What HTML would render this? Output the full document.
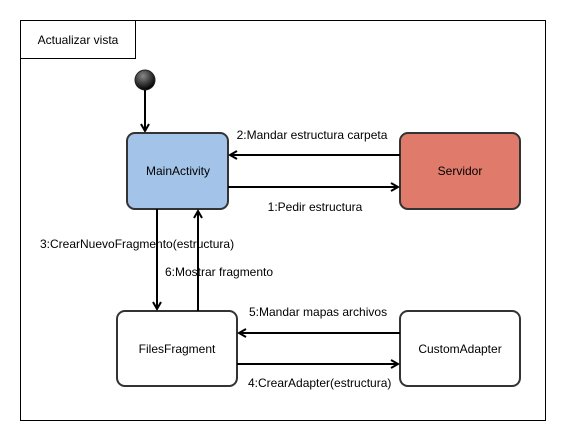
<!DOCTYPE html>
<html><head><meta charset="utf-8"><style>body{margin:0;background:#fff}svg{display:block}text{font-family:"Liberation Sans",sans-serif;font-size:12px;fill:#000}</style></head>
<body>
<svg width="566" height="441" xmlns="http://www.w3.org/2000/svg">
<defs>
<radialGradient id="g" cx="0.4" cy="0.3" r="0.7"><stop offset="0" stop-color="#888"/><stop offset="1" stop-color="#000"/></radialGradient>
<marker id="a" markerWidth="10" markerHeight="10" refX="8" refY="5" orient="auto" markerUnits="userSpaceOnUse"><path d="M1,1 L8,5 L1,9" fill="none" stroke="#000" stroke-width="2"/></marker>
</defs>
<rect x="20.5" y="20.5" width="525" height="400" fill="#fff" stroke="#000"/>
<rect x="20.5" y="20.5" width="115" height="38" fill="#fff" stroke="#000"/>
<text x="78" y="44" text-anchor="middle">Actualizar vista</text>
<circle cx="145" cy="80" r="10" fill="url(#g)" stroke="#222"/>
<line x1="145" y1="90" x2="145" y2="131" stroke="#000" stroke-width="2" marker-end="url(#a)"/>
<rect x="127" y="133" width="101" height="76" rx="8" fill="#a3c4e8" stroke="#333" stroke-width="2"/>
<text x="178" y="175" text-anchor="middle">MainActivity</text>
<rect x="400" y="133" width="120" height="76" rx="8" fill="#e07b6b" stroke="#333" stroke-width="2"/>
<text x="460" y="175" text-anchor="middle">Servidor</text>
<rect x="117" y="311" width="120" height="75" rx="8" fill="#fff" stroke="#333" stroke-width="2"/>
<text x="177" y="353" text-anchor="middle">FilesFragment</text>
<rect x="400" y="311" width="120" height="75" rx="8" fill="#fff" stroke="#333" stroke-width="2"/>
<text x="460" y="353" text-anchor="middle">CustomAdapter</text>
<line x1="400" y1="155" x2="230" y2="155" stroke="#000" stroke-width="2" marker-end="url(#a)"/>
<line x1="228" y1="187" x2="398" y2="187" stroke="#000" stroke-width="2" marker-end="url(#a)"/>
<line x1="157" y1="209" x2="157" y2="309" stroke="#000" stroke-width="2" marker-end="url(#a)"/>
<line x1="198" y1="311" x2="198" y2="211" stroke="#000" stroke-width="2" marker-end="url(#a)"/>
<line x1="400" y1="333" x2="239" y2="333" stroke="#000" stroke-width="2" marker-end="url(#a)"/>
<line x1="237" y1="364" x2="398" y2="364" stroke="#000" stroke-width="2" marker-end="url(#a)"/>
<text x="312" y="139" text-anchor="middle">2:Mandar estructura carpeta</text>
<text x="315" y="211" text-anchor="middle">1:Pedir estructura</text>
<text x="40" y="248">3:CrearNuevoFragmento(estructura)</text>
<text x="165" y="276">6:Mostrar fragmento</text>
<text x="249" y="316">5:Mandar mapas archivos</text>
<text x="248" y="387">4:CrearAdapter(estructura)</text>
</svg>
</body></html>
